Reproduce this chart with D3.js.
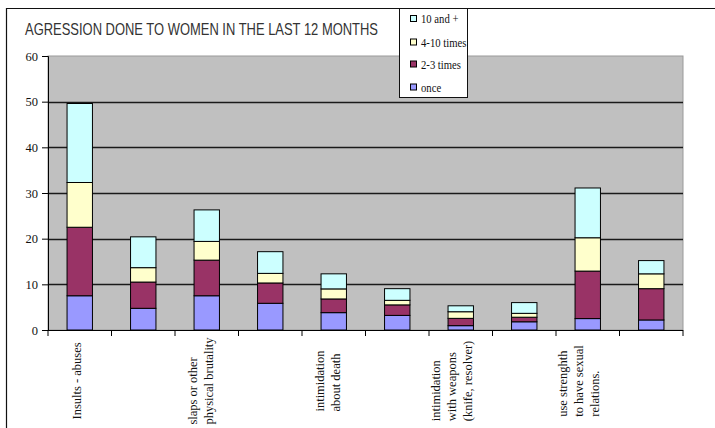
<!DOCTYPE html>
<html>
<head>
<meta charset="utf-8">
<script src="https://cdn.jsdelivr.net/npm/d3@7"></script>
<style>
  body { margin: 0; background: #fff; }
  svg { display: block; }
</style>
</head>
<body>
<div id="chart"></div>
<script>
// Chart data
const categoryLabels = [
    ["Insults - abuses"],
    [],
    ["slaps or other", "physical brutality"],
    [],
    ["intimidation", "about death"],
    [],
    ["intimidation", "with weapons", "(knife, resolver)"],
    [],
    ["use strenghth", "to have sexual", "relations."],
    []
];
const seriesNames = ["once", "2-3 times", "4-10 times", "10 and +"];
const once      = [7.5, 4.75, 7.5, 5.85, 3.8, 3.2, 0.95, 1.8, 2.5, 2.2];
const twoThree  = [15.0, 5.75, 7.8, 4.45, 3.0, 2.3, 1.6, 1.0, 10.4, 6.85];
const fourTen   = [9.8, 3.15, 4.1, 2.1, 2.2, 1.0, 1.45, 0.85, 7.3, 3.25];
const tenPlus   = [17.3, 6.75, 6.9, 4.75, 3.3, 2.55, 1.3, 2.35, 10.9, 2.9];
const yTicks = [0, 10, 20, 30, 40, 50, 60];

const colors = ["#9999ff", "#993366", "#ffffcc", "#ccffff"];
const serif = '"Liberation Serif", "Times New Roman", Times, serif';

const width = 715, height = 428;
const plot = { left: 48, right: 683, top: 56, bottom: 330 };

const svg = d3.select('#chart')
    .append('svg')
    .attr('width', width)
    .attr('height', height);

// Outer frame (left and top only are visible)
svg.append('path')
    .attr('d', `M6.5,${height} L6.5,8.5 L${width},8.5`)
    .style('fill', 'none')
    .style('stroke', '#111')
    .style('stroke-width', 1.2);

// Title
svg.append('text')
    .attr('x', 25)
    .attr('y', 35)
    .attr('textLength', 353)
    .attr('lengthAdjust', 'spacingAndGlyphs')
    .style('font-family', '"Liberation Sans Narrow", "Arial Narrow", "Liberation Sans", Arial, sans-serif')
    .style('font-size', '17px')
    .style('fill', '#333')
    .text('AGRESSION DONE TO WOMEN IN THE LAST 12 MONTHS');

// Scales
const idx = d3.range(categoryLabels.length);
const x = d3.scaleBand()
    .domain(idx)
    .range([plot.left, plot.right])
    .padding(0);

const y = d3.scaleLinear()
    .domain([0, 60])
    .range([plot.bottom, plot.top]);

// Plot background
svg.append('rect')
    .attr('x', plot.left)
    .attr('y', plot.top)
    .attr('width', plot.right - plot.left)
    .attr('height', plot.bottom - plot.top)
    .style('fill', '#c0c0c0')
    .style('stroke', '#9a9a9a')
    .style('stroke-width', 1);

// Gridlines
svg.append('g')
    .selectAll('line')
    .data(yTicks.filter(t => t > 0 && t < 60))
    .enter()
    .append('line')
    .attr('x1', plot.left)
    .attr('x2', plot.right)
    .attr('y1', d => Math.round(y(d)) + 0.5)
    .attr('y2', d => Math.round(y(d)) + 0.5)
    .style('stroke', '#1a1a1a')
    .style('stroke-width', 1.3);

// Stacked bars
const rows = idx.map(i => ({
    i: i,
    "once": once[i],
    "2-3 times": twoThree[i],
    "4-10 times": fourTen[i],
    "10 and +": tenPlus[i]
}));
const stacked = d3.stack().keys(seriesNames)(rows);

const barW = x.bandwidth() * 0.4;

svg.append('g')
    .selectAll('g')
    .data(stacked)
    .enter()
    .append('g')
    .style('fill', (d, k) => colors[k])
    .selectAll('rect')
    .data(d => d)
    .enter()
    .append('rect')
    .attr('x', d => x(d.data.i) + (x.bandwidth() - barW) / 2)
    .attr('y', d => y(d[1]))
    .attr('width', barW)
    .attr('height', d => y(d[0]) - y(d[1]))
    .style('stroke', '#000')
    .style('stroke-width', 1);

// Y axis
const yAxis = svg.append('g')
    .attr('transform', `translate(${plot.left},0)`)
    .call(d3.axisLeft(y).tickValues(yTicks).tickSize(6).tickPadding(4));
yAxis.selectAll('text')
    .style('font-family', serif)
    .style('font-size', '12.5px')
    .style('fill', '#111');
yAxis.selectAll('line, path').style('stroke', '#000');

// X axis: ticks at category boundaries
const xAxis = svg.append('g');
xAxis.append('line')
    .attr('x1', plot.left)
    .attr('x2', plot.right)
    .attr('y1', plot.bottom + 0.5)
    .attr('y2', plot.bottom + 0.5)
    .style('stroke', '#000')
    .style('stroke-width', 1.2);
xAxis.selectAll('line.tick')
    .data(d3.range(categoryLabels.length + 1))
    .enter()
    .append('line')
    .attr('class', 'tick')
    .attr('x1', d => d < categoryLabels.length ? x(d) : plot.right)
    .attr('x2', d => d < categoryLabels.length ? x(d) : plot.right)
    .attr('y1', plot.bottom)
    .attr('y2', plot.bottom + 6)
    .style('stroke', '#000');

// Rotated category labels
const labelCenterY = 381;
const lineGap = 16;
idx.forEach(i => {
    const lines = categoryLabels[i];
    if (!lines.length) return;
    const n = lines.length;
    const cx = x(i) + x.bandwidth() / 2 - 3 - 3 * (n - 1);
    const g = svg.append('g');
    const texts = g.selectAll('text')
        .data(lines)
        .enter()
        .append('text')
        .attr('transform', (d, k) => {
            const bx = cx + (k - (n - 1) / 2) * lineGap + 4;
            return `translate(${bx},0) rotate(-90)`;
        })
        .style('font-family', serif)
        .style('font-size', '12.5px')
        .style('fill', '#111')
        .text(d => d);
    let maxLen = 0;
    texts.each(function() { maxLen = Math.max(maxLen, this.getComputedTextLength()); });
    // lines start at the bottom of the block, block centred on labelCenterY
    texts.attr('x', -(labelCenterY + maxLen / 2));
});

// Legend
const legend = svg.append('g');
legend.append('rect')
    .attr('x', 399.5)
    .attr('y', 8.5)
    .attr('width', 68)
    .attr('height', 89)
    .style('fill', '#fff')
    .style('stroke', '#111')
    .style('stroke-width', 1);

const legendOrder = [3, 2, 1, 0];
const legendY = [18.5, 42, 64, 87];
legendOrder.forEach((k, j) => {
    legend.append('rect')
        .attr('x', 410.5)
        .attr('y', legendY[j] - 3)
        .attr('width', 6)
        .attr('height', 6)
        .style('fill', colors[k])
        .style('stroke', '#000')
        .style('stroke-width', 1);
    const t = legend.append('text')
        .attr('x', 421)
        .attr('y', legendY[j] + 4.5)
        .style('font-family', serif)
        .style('font-size', '13px')
        .style('fill', '#111')
        .text(seriesNames[k]);
    // narrow the legend text like the original
    const len = t.node().getComputedTextLength();
    t.attr('textLength', len * 0.82).attr('lengthAdjust', 'spacingAndGlyphs');
});
</script>
</body>
</html>
